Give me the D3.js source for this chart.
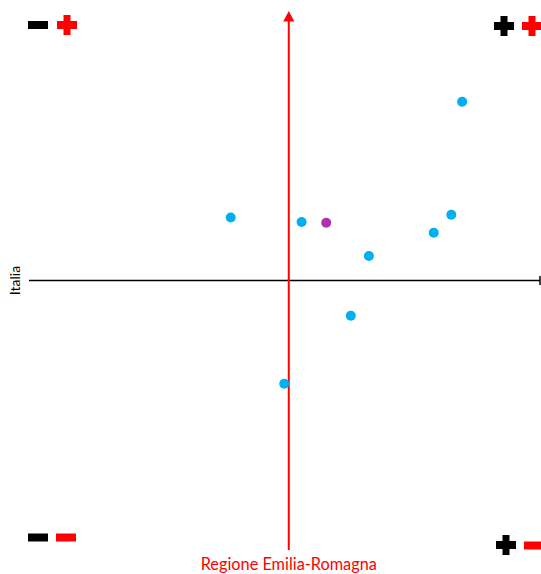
<!DOCTYPE html>
<html>
<head>
<meta charset="utf-8">
<script src="https://cdn.jsdelivr.net/npm/d3@7"></script>
<style>
  html, body { margin: 0; padding: 0; background: #fff; }
  svg { display: block; }
</style>
</head>
<body>
<svg id="chart" width="541" height="574"></svg>
<script>
// Data (Regione Emilia-Romagna on x, Italia on y)
const labels  = ["A", "B", "C", "D", "E", "F", "G", "H", "I"];
const xValues = [-2.31, 0.51, 1.49, 3.19, 5.77, 6.47, 6.90, 2.47, -0.18];
const yValues = [ 2.34, 2.17, 2.14, 0.91, 1.77, 2.44, 6.63, -1.31, -3.83];
const groups  = ["other", "other", "highlight", "other", "other", "other", "other", "other", "other"];
const xTitle = "Regione Emilia-Romagna";
const yTitle = "Italia";

const points = labels.map((l, i) => ({ label: l, x: xValues[i], y: yValues[i], g: groups[i] }));

const svg = d3.select("#chart");
const x = d3.scaleLinear().domain([-10.3, 10]).range([30, 540]);
const y = d3.scaleLinear().domain([-10, 10]).range([550, 11]);
const color = d3.scaleOrdinal().domain(["other", "highlight"]).range(["#00b0f0", "#b030b0"]);

// horizontal axis (Italia = 0)
svg.append("line")
  .attr("x1", x(-10.3) - 1).attr("x2", x(10))
  .attr("y1", y(0)).attr("y2", y(0))
  .attr("stroke", "#000").attr("stroke-width", 1.5);
svg.append("line")
  .attr("x1", x(10)).attr("x2", x(10))
  .attr("y1", y(0) - 4.5).attr("y2", y(0) + 4.5)
  .attr("stroke", "#000").attr("stroke-width", 1.5);

// vertical axis (Emilia-Romagna = 0) with arrow
svg.append("line")
  .attr("x1", x(0)).attr("x2", x(0))
  .attr("y1", y(10) + 9).attr("y2", y(-10))
  .attr("stroke", "#ff0000").attr("stroke-width", 2);
svg.append("path")
  .attr("d", `M${x(0)},${y(10)} L${x(0) - 5.5},${y(10) + 10.5} L${x(0) + 5.5},${y(10) + 10.5} Z`)
  .attr("fill", "#ff0000");

// axis titles
svg.append("text")
  .attr("x", x(0)).attr("y", 569.5)
  .attr("text-anchor", "middle")
  .attr("font-family", "Lato, 'Open Sans', sans-serif")
  .attr("font-size", 16.3)
  .attr("fill", "#ff0000")
  .text(xTitle);
svg.append("text")
  .attr("transform", `translate(19.5,${y(0)}) rotate(-90)`)
  .attr("text-anchor", "middle")
  .attr("font-family", "Lato, 'Open Sans', sans-serif")
  .attr("font-size", 14)
  .attr("fill", "#000")
  .text(yTitle);

// quadrant sign keys
function plus(cx, cy, col) {
  svg.append("rect").attr("x", cx - 10).attr("y", cy - 4).attr("width", 20).attr("height", 8).attr("fill", col);
  svg.append("rect").attr("x", cx - 3.5).attr("y", cy - 10).attr("width", 7).attr("height", 20).attr("fill", col);
}
function minus(cx, cy, col) {
  svg.append("rect").attr("x", cx - 10).attr("y", cy - 4).attr("width", 20).attr("height", 8).attr("fill", col);
}
minus(38, 25, "#000"); plus(67, 25, "#ff0000");
plus(504, 26, "#000"); plus(532, 26, "#ff0000");
minus(38, 537.5, "#000"); minus(66, 537.5, "#ff0000");
plus(506, 545, "#000"); minus(534, 545.5, "#ff0000");

// points
svg.append("g").selectAll("circle")
  .data(points)
  .join("circle")
  .attr("cx", d => x(d.x))
  .attr("cy", d => y(d.y))
  .attr("r", 5)
  .attr("fill", d => color(d.g));
</script>
</body>
</html>
